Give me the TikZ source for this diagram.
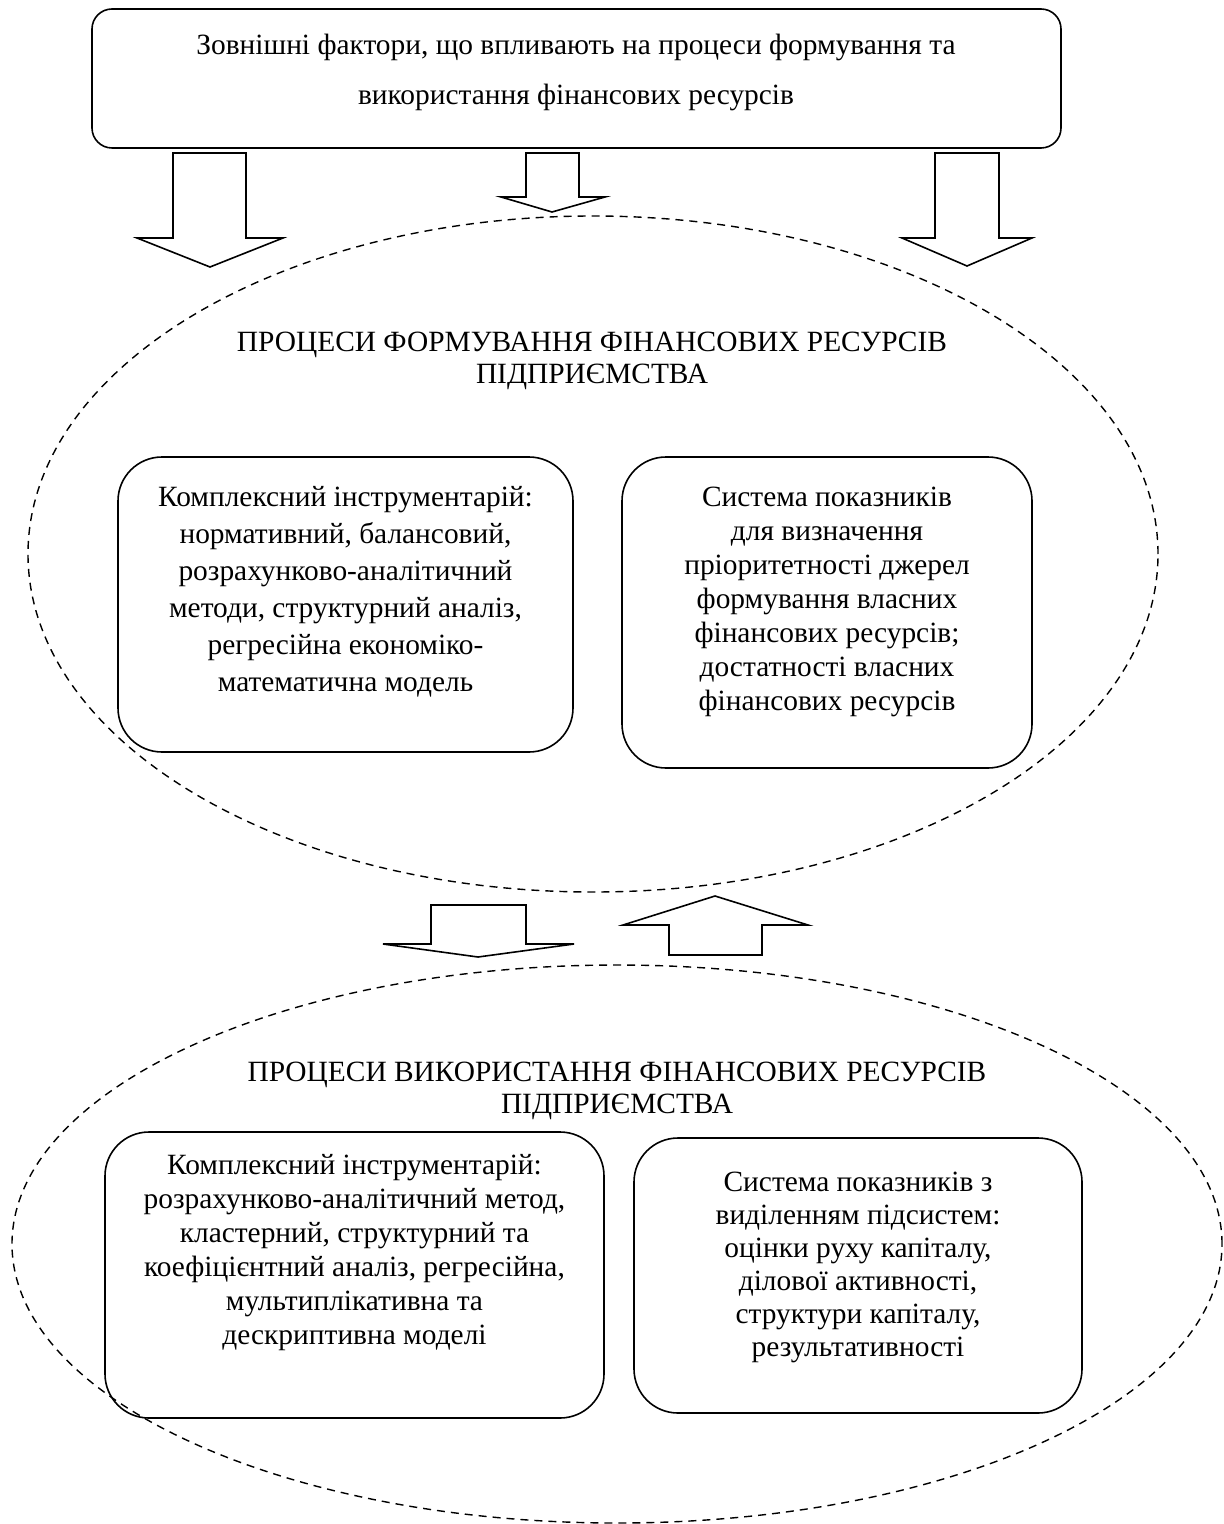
\documentclass[tikz,border=0pt]{standalone}
\usepackage{fontspec}
\setmainfont{Liberation Serif}
\usetikzlibrary{shapes.geometric}

\begin{document}
\begin{tikzpicture}[x=0.5pt, y=-0.5pt,
    box/.style={rectangle, rounded corners=#1, draw=black, line width=0.8pt, inner sep=0pt},
    txt/.style={align=center, inner sep=0pt, font=\fontsize{14.7}{#1}\selectfont},
    oval/.style={ellipse, draw=black, dash pattern=on 4pt off 3pt, line width=0.7pt, inner sep=0pt},
    blk/.style={draw=black, line width=0.8pt, line join=miter}
]
\useasboundingbox (0,0) rectangle (1223,1524);

% Outer factors
\node[box=10pt, minimum width=484.5pt, minimum height=69.5pt] (ext) at (576.5,78.5) {};
\node[txt=25pt] (exttxt) at (576,72) {Зовнішні фактори, що впливають на процеси формування та\\використання фінансових ресурсів};

% Ovals
\node[oval, minimum width=565pt, minimum height=338pt] (form) at (593,554) {};
\node[oval, minimum width=605pt, minimum height=279pt] (use) at (617,1244) {};

% Arrows from outer factors
\draw[blk] (173,153) -- (246,153) -- (246,238) -- (283,238) -- (210,267) -- (137,238) -- (173,238) -- cycle;
\draw[blk] (526,153) -- (579,153) -- (579,197) -- (605,197) -- (552,212) -- (501,197) -- (526,197) -- cycle;
\draw[blk] (935,153) -- (999,153) -- (999,238) -- (1032,238) -- (967,266) -- (902,238) -- (935,238) -- cycle;

% Formation processes
\node[txt=16pt] (formtitle) at (592,361) {ПРОЦЕСИ ФОРМУВАННЯ ФІНАНСОВИХ РЕСУРСІВ\\ПІДПРИЄМСТВА};
\node[box=22pt, minimum width=227.5pt, minimum height=147.5pt] (tool1) at (345.5,604.5) {};
\node[txt=18.5pt] (tool1txt) at (345.5,592) {Комплексний інструментарій:\\нормативний, балансовий,\\розрахунково-аналітичний\\методи, структурний аналіз,\\регресійна економіко-\\математична модель};
\node[box=22pt, minimum width=205pt, minimum height=155.5pt] (ind1) at (827,612.5) {};
\node[txt=17pt] (ind1txt) at (827,602) {Система показників\\для визначення\\пріоритетності джерел\\формування власних\\фінансових ресурсів;\\достатності власних\\фінансових ресурсів};

% Arrows between the ovals
\draw[blk] (431,905) -- (526,905) -- (526,944) -- (574,944) -- (478,957) -- (383,944) -- (431,944) -- cycle;
\draw[blk] (669,955) -- (762,955) -- (762,925) -- (808,925) -- (715,896) -- (623,925) -- (669,925) -- cycle;

% Use processes
\node[txt=16pt] (usetitle) at (617,1091) {ПРОЦЕСИ ВИКОРИСТАННЯ ФІНАНСОВИХ РЕСУРСІВ\\ПІДПРИЄМСТВА};
\node[box=22pt, minimum width=249.5pt, minimum height=143pt] (tool2) at (354.5,1275) {};
\node[txt=17pt] (tool2txt) at (354.5,1253) {Комплексний інструментарій:\\розрахунково-аналітичний метод,\\кластерний, структурний та\\коефіцієнтний аналіз, регресійна,\\мультиплікативна та\\дескриптивна моделі};
\node[box=22pt, minimum width=224pt, minimum height=137.5pt] (ind2) at (858,1275.5) {};
\node[txt=16.5pt] (ind2txt) at (858,1267) {Система показників з\\виділенням підсистем:\\оцінки руху капіталу,\\ділової активності,\\структури капіталу,\\результативності};

\end{tikzpicture}
\end{document}
